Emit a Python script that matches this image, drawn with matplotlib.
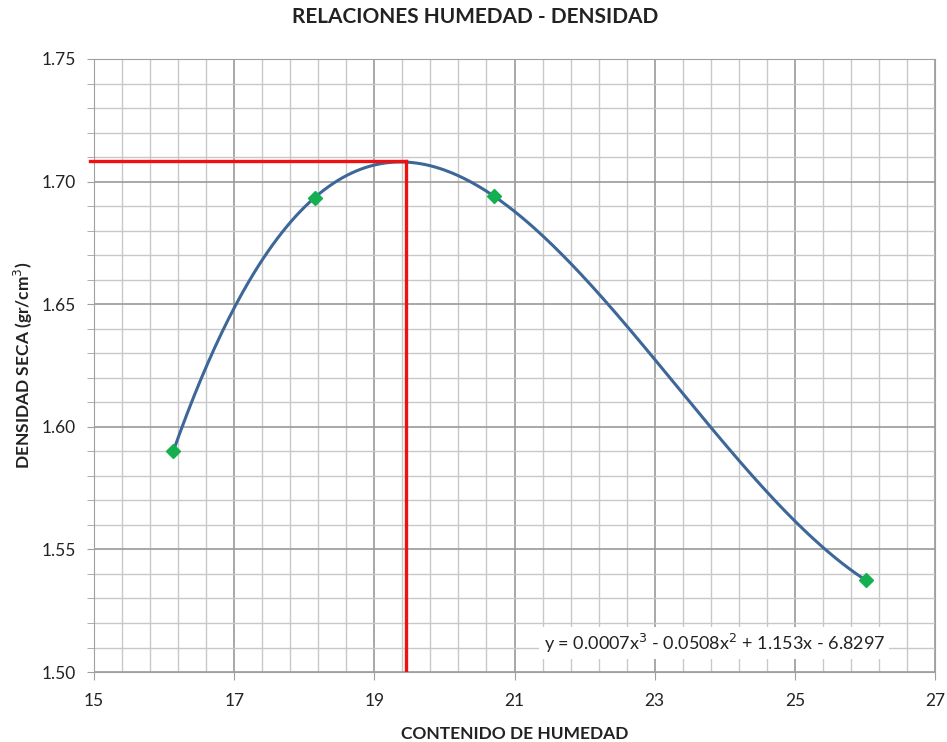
import numpy as np
import matplotlib.pyplot as plt
from matplotlib.ticker import FixedLocator

plt.rcParams['font.family'] = ['Lato', 'DejaVu Sans']

# ensayo proctor: humedad (%) y densidad seca (gr/cm3)
humedad = [16.13, 18.15, 20.71, 26.01]
densidad = [1.590, 1.6935, 1.6940, 1.5375]
ecuacion = "y = 0.0007x$^3$ - 0.0508x$^2$ + 1.153x - 6.8297"

# humedad optima / densidad seca maxima
w_opt = 19.45
d_opt = 1.7086

x_ticks = np.arange(15, 28, 2)
y_ticks = [1.50, 1.55, 1.60, 1.65, 1.70, 1.75]

# linea de tendencia polinomica de grado 3
coef = np.polyfit(humedad, densidad, 3)
xs = np.linspace(humedad[0], humedad[-1], 300)
ys = np.polyval(coef, xs)

fig = plt.figure(figsize=(9.47, 7.42), dpi=100)
ax = fig.add_axes([0.0993, 0.0943, 0.888, 0.8262])

ax.set_xlim(15, 27)
ax.set_ylim(1.50, 1.75)
ax.xaxis.set_major_locator(FixedLocator(x_ticks))
ax.xaxis.set_minor_locator(FixedLocator(np.arange(15, 27.01, 0.4)))
ax.yaxis.set_major_locator(FixedLocator(y_ticks))
ax.yaxis.set_minor_locator(FixedLocator(np.arange(1.50, 1.7501, 0.01)))
ax.yaxis.set_major_formatter(lambda v, p: f"{v:.2f}")
ax.grid(which='major', color='#9a9a9a', lw=1.2)
ax.grid(which='minor', color='#c8c8c8', lw=1.0)
ax.set_axisbelow(True)
for s in ax.spines.values():
    s.set_color('#a0a0a0')
ax.tick_params(which='both', direction='out', colors='#a0a0a0', labelcolor='#222222',
               labelsize=12.5)
ax.tick_params(axis='x', which='major', length=6, pad=9)
ax.tick_params(axis='x', which='minor', length=0)
ax.tick_params(axis='y', which='both', length=5, pad=8)

ax.plot(xs, ys, color='#3e6799', lw=2.2, zorder=3)
ax.plot(humedad, densidad, ls='none', marker='D', ms=7, color='#14b050', zorder=4)

ax.plot([14.94, w_opt], [d_opt, d_opt], color='#ee1111', lw=2.4, clip_on=False, zorder=5)
ax.plot([w_opt, w_opt], [1.50, d_opt], color='#ee1111', lw=2.4, zorder=5)

ax.text(23.85, 1.5118, ecuacion, ha='center', va='center', fontsize=13, color='#222222',
        bbox=dict(facecolor='white', edgecolor='none', pad=3), zorder=6)

fig.suptitle("RELACIONES HUMEDAD - DENSIDAD", x=0.502, y=0.99, fontsize=15,
             fontweight='bold', color='#222222')
ax.set_xlabel("CONTENIDO DE HUMEDAD", fontsize=12.5, fontweight='bold', color='#222222',
              labelpad=12)
ax.set_ylabel("DENSIDAD SECA (gr/cm$^3$)", fontsize=12.5, fontweight='bold', color='#222222',
              labelpad=5)

fig.savefig("out.png", dpi=100)
